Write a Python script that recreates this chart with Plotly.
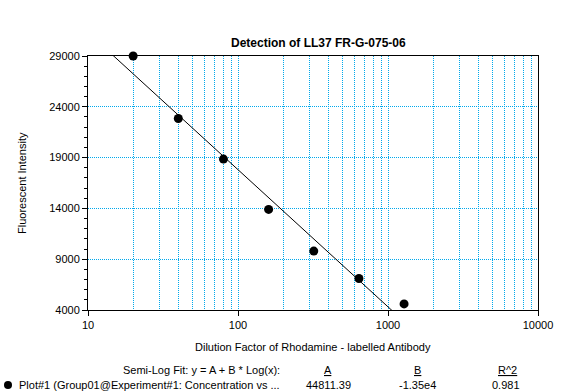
import numpy as np
import plotly.graph_objects as go

# ---- data ----
dilution = [20, 40, 80, 160, 320, 640, 1280]
intensity = [29000, 22850, 18850, 13900, 9800, 7100, 4600]
fit_A = 44811.39
fit_B = -1.35e4
fit_R2 = 0.981
fit_x = [10, 10000]
x_major = [10, 100, 1000, 10000]
x_minor = [m * d for d in (10, 100, 1000) for m in range(2, 10)]
y_ticks = [4000, 9000, 14000, 19000, 24000, 29000]
y_minor = list(range(4000, 29001, 1000))
series_name = "Plot#1 (Group01@Experiment#1: Concentration vs ..."
title_text = "Detection of LL37 FR-G-075-06"
x_title = "Dilution Factor of Rhodamine - labelled Antibody"
y_title = "Fluorescent Intensity"

FONT = "Liberation Sans, Arial, sans-serif"
GRID = "#00A8EC"
DASH = "1px,1px"

fit_y = [fit_A + fit_B * np.log10(v) for v in fit_x]

fig = go.Figure()
fig.add_trace(go.Scatter(x=fit_x, y=fit_y, mode="lines",
                         line=dict(color="black", width=1), showlegend=False,
                         hoverinfo="skip"))
fig.add_trace(go.Scatter(x=dilution, y=intensity, mode="markers",
                         marker=dict(color="black", size=9), cliponaxis=False,
                         showlegend=False))

W, H = 567, 391
L, R, T, B = 88, 29, 56, 81
pw, ph = W - L - R, H - T - B


def px(xp):
    return (xp - L) / pw


def py(yp):
    return (H - B - yp) / ph


fig.update_layout(
    width=W, height=H,
    margin=dict(l=L, r=R, t=T, b=B),
    paper_bgcolor="white", plot_bgcolor="white",
    font=dict(family=FONT, size=11, color="black"),
    showlegend=False,
    xaxis=dict(type="log", range=[1, 4], tickvals=x_major,
               ticktext=[str(v) for v in x_major],
               showgrid=True, gridcolor=GRID, griddash=DASH, gridwidth=1,
               minor=dict(tickmode="array", tickvals=x_minor, showgrid=True,
                          gridcolor=GRID, griddash=DASH, gridwidth=1, ticks=""),
               ticks="outside", ticklen=5, tickcolor="black",
               showline=True, linecolor="black", linewidth=1, mirror=True,
               zeroline=False, tickfont=dict(size=11)),
    yaxis=dict(range=[4000, 29000], tickvals=y_ticks,
               ticktext=[str(v) for v in y_ticks],
               showgrid=True, gridcolor=GRID, griddash=DASH, gridwidth=1,
               minor=dict(tickmode="array", tickvals=y_minor, ticks="outside",
                          ticklen=3, tickcolor="black", showgrid=False),
               ticks="outside", ticklen=5, tickcolor="black",
               showline=True, linecolor="black", linewidth=1, mirror=True,
               zeroline=False, tickfont=dict(size=11)),
)

ann = []


def add_text(text, xp, yp, xanchor="center", size=11, angle=0):
    ann.append(dict(text=text, x=px(xp), y=py(yp), xref="paper", yref="paper",
                    xanchor=xanchor, yanchor="middle", showarrow=False,
                    textangle=angle, font=dict(family=FONT, size=size, color="black")))


add_text("<b>" + title_text + "</b>", 318, 43, size=12)
add_text(x_title, 313, 347)
add_text(y_title, 22, 183, angle=-90)
add_text("Semi-Log Fit: y = A + B * Log(x):", 282, 370, xanchor="right")
add_text("<u>A</u>", 328, 370)
add_text("<u>B</u>", 417, 370)
add_text("<u>R^2</u>", 507, 370)
add_text(series_name, 17, 385, xanchor="left")
add_text(f"{fit_A:.2f}", 328, 385)
add_text(f"{fit_B:.2e}".replace("e+0", "e"), 417, 385)
add_text(f"{fit_R2:.3f}", 506, 385)
fig.update_layout(annotations=ann)

# legend marker
fig.add_shape(type="circle", xref="paper", yref="paper",
              x0=px(4), x1=px(12), y0=py(389), y1=py(381),
              fillcolor="black", line=dict(color="black", width=0))

fig.write_html("out.html", config={"displayModeBar": False},
               post_script="document.body.style.margin='0';document.body.style.overflow='hidden';")
